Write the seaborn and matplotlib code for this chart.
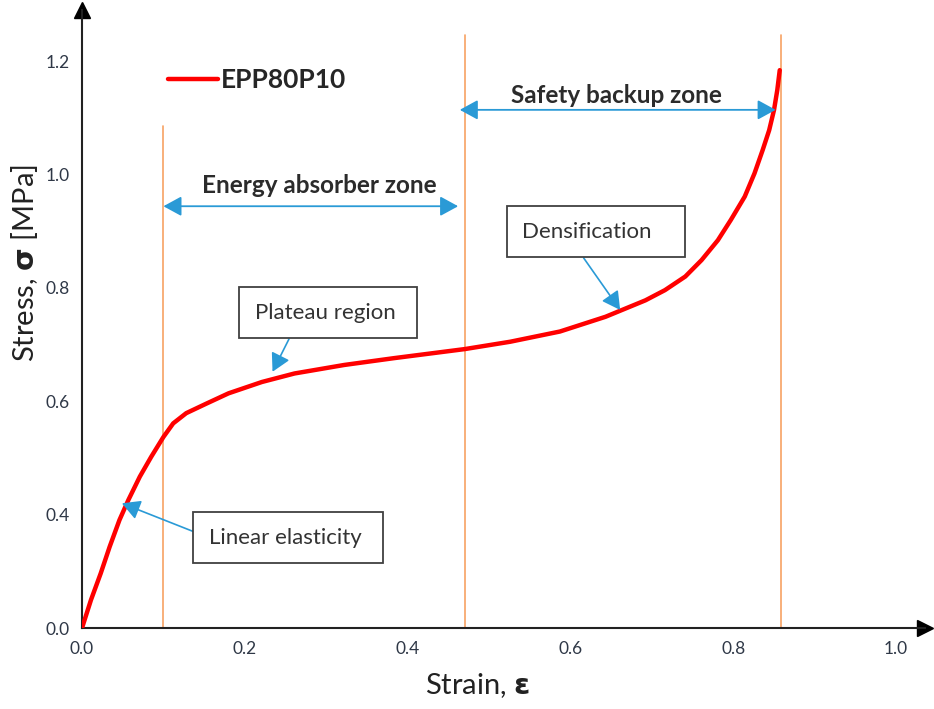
import numpy as np
import pandas as pd
import matplotlib.pyplot as plt
import seaborn as sns

sns.set_style("white")
plt.rcParams['font.family'] = ['Lato', 'DejaVu Sans']
plt.rcParams['mathtext.fontset'] = 'custom'
plt.rcParams['mathtext.rm'] = 'DejaVu Sans'
plt.rcParams['mathtext.bf'] = 'DejaVu Sans:bold'

# -------------------------
# Data
# -------------------------
strain = [0.0, 0.011, 0.023, 0.034, 0.046, 0.057, 0.071, 0.085, 0.100, 0.112,
          0.128, 0.153, 0.180, 0.221, 0.261, 0.322, 0.383, 0.470, 0.526, 0.587,
          0.643, 0.692, 0.716, 0.741, 0.761, 0.781, 0.797, 0.814, 0.826, 0.836,
          0.844, 0.850, 0.854, 0.857]
stress = [0.0, 0.099, 0.193, 0.287, 0.381, 0.426, 0.467, 0.502, 0.537, 0.561,
          0.579, 0.596, 0.614, 0.634, 0.649, 0.664, 0.676, 0.692, 0.705, 0.723,
          0.749, 0.778, 0.796, 0.820, 0.849, 0.884, 0.920, 0.961, 1.002, 1.043,
          1.078, 1.114, 1.149, 1.184]
series_name = "EPP80P10"

zone_lines = [0.1, 0.47, 0.858]
zone_tops = [1.085, 1.246, 1.246]

x_major = [0.0, 0.2, 0.4, 0.6, 0.8, 1.0]
x_minor = [0.1, 0.3, 0.5, 0.7, 0.9]
y_major = [0.0, 0.4, 0.6, 0.8, 1.0, 1.2]
y_minor = [0.2, 0.5, 0.7, 0.9, 1.1]

df = pd.DataFrame({'strain': strain, 'stress': stress, 'sample': series_name})

# y axis in the reference is compressed below 0.4
def fwd(y):
    y = np.asarray(y, dtype=float)
    return np.where(y < 0.4, y / 2, y - 0.2)

def inv(t):
    t = np.asarray(t, dtype=float)
    return np.where(t < 0.2, t * 2, t + 0.2)

fig = plt.figure(figsize=(9.34, 7.09), dpi=100)
ax = fig.add_axes([0.0878, 0.1142, 0.9022, 0.8716])
ax.set_yscale('function', functions=(fwd, inv))

# zone boundaries
for xv, top in zip(zone_lines, zone_tops):
    ax.plot([xv, xv], [0, top], color='#f7a263', lw=1.2, zorder=1)

sns.lineplot(data=df, x='strain', y='stress', hue='sample', palette=['#ff0000'],
             lw=3.2, estimator=None, sort=False, ax=ax, zorder=3)
ax.lines[-1].set_solid_joinstyle('round')

ax.set_xlim(0, 1.035)
ax.set_ylim(0, 1.29)

# axes look
for s in ['top', 'right']:
    ax.spines[s].set_visible(False)
for s in ['left', 'bottom']:
    ax.spines[s].set_color('#222222')
    ax.spines[s].set_linewidth(1.5)
ax.plot(1, 0, marker='>', color='black', ms=11, transform=ax.transAxes, clip_on=False)
ax.plot(0, 1, marker='^', color='black', ms=11, transform=ax.transAxes, clip_on=False)

ax.set_xticks(x_major)
ax.set_xticks(x_minor, minor=True)
ax.set_yticks(y_major)
ax.set_yticks(y_minor, minor=True)
ax.set_xticklabels([f"{v:.1f}" for v in x_major])
ax.set_yticklabels([f"{v:.1f}" for v in y_major])
ax.tick_params(which='both', direction='inout', length=10, width=1.2,
               color='#222222', labelsize=12.5, labelcolor='#2f3847')
ax.tick_params(axis='x', pad=4)
ax.tick_params(axis='y', pad=4)

ax.set_xlabel(r"Strain, $\mathbf{\varepsilon}$", fontsize=21, color='#222222')
ax.set_ylabel(r"Stress, $\mathbf{\sigma}$ [MPa]", fontsize=21, color='#222222')
ax.xaxis.set_label_coords(0.469, -0.07)
ax.yaxis.set_label_coords(-0.05, 0.59)

# legend
leg = ax.legend(loc='center left', bbox_to_anchor=(0.102, 0.887), frameon=False,
                handlelength=1.9, handletextpad=0.1, borderpad=0, borderaxespad=0,
                prop={'weight': 'bold', 'size': 19})

# zone double arrows and labels
arrow_blue = '#2a9ad6'
dbl = dict(arrowstyle='<|-|>,head_length=0.55,head_width=0.3', color=arrow_blue,
           lw=1.3, mutation_scale=20, shrinkA=0, shrinkB=0)
ax.annotate('', xy=(0.1, 0.944), xytext=(0.462, 0.944), arrowprops=dbl)
ax.annotate('', xy=(0.464, 1.114), xytext=(0.852, 1.114), arrowprops=dbl)
ax.text(0.291, 0.98, "Energy absorber zone", ha='center', va='center',
        fontsize=17.5, fontweight='bold', color='#2b2b2b')
ax.text(0.657, 1.14, "Safety backup zone", ha='center', va='center',
        fontsize=17.5, fontweight='bold', color='#2b2b2b')

# boxed callouts
box = dict(boxstyle='square,pad=0.7', fc='white', ec='#404040', lw=1.3)
arr = dict(arrowstyle='-|>,head_length=0.55,head_width=0.3', color=arrow_blue,
           lw=1.2, mutation_scale=20, shrinkA=0, shrinkB=0)
ax.annotate("Plateau region ", xy=(0.234, 0.652), xytext=(0.302, 0.756),
            ha='center', va='center', fontsize=16, color='#333333', bbox=box,
            arrowprops=dict(arr, relpos=(0.29, 0.0)))
ax.annotate("Linear elasticity ", xy=(0.049, 0.42), xytext=(0.253, 0.319),
            ha='center', va='center', fontsize=16, color='#333333', bbox=box,
            arrowprops=dict(arr, relpos=(0.0, 0.5)))
ax.annotate("Densification   ", xy=(0.661, 0.761), xytext=(0.631, 0.899),
            ha='center', va='center', fontsize=16, color='#333333', bbox=box,
            arrowprops=dict(arr, relpos=(0.34, 0.0)))

fig.savefig("out.png", dpi=100)
